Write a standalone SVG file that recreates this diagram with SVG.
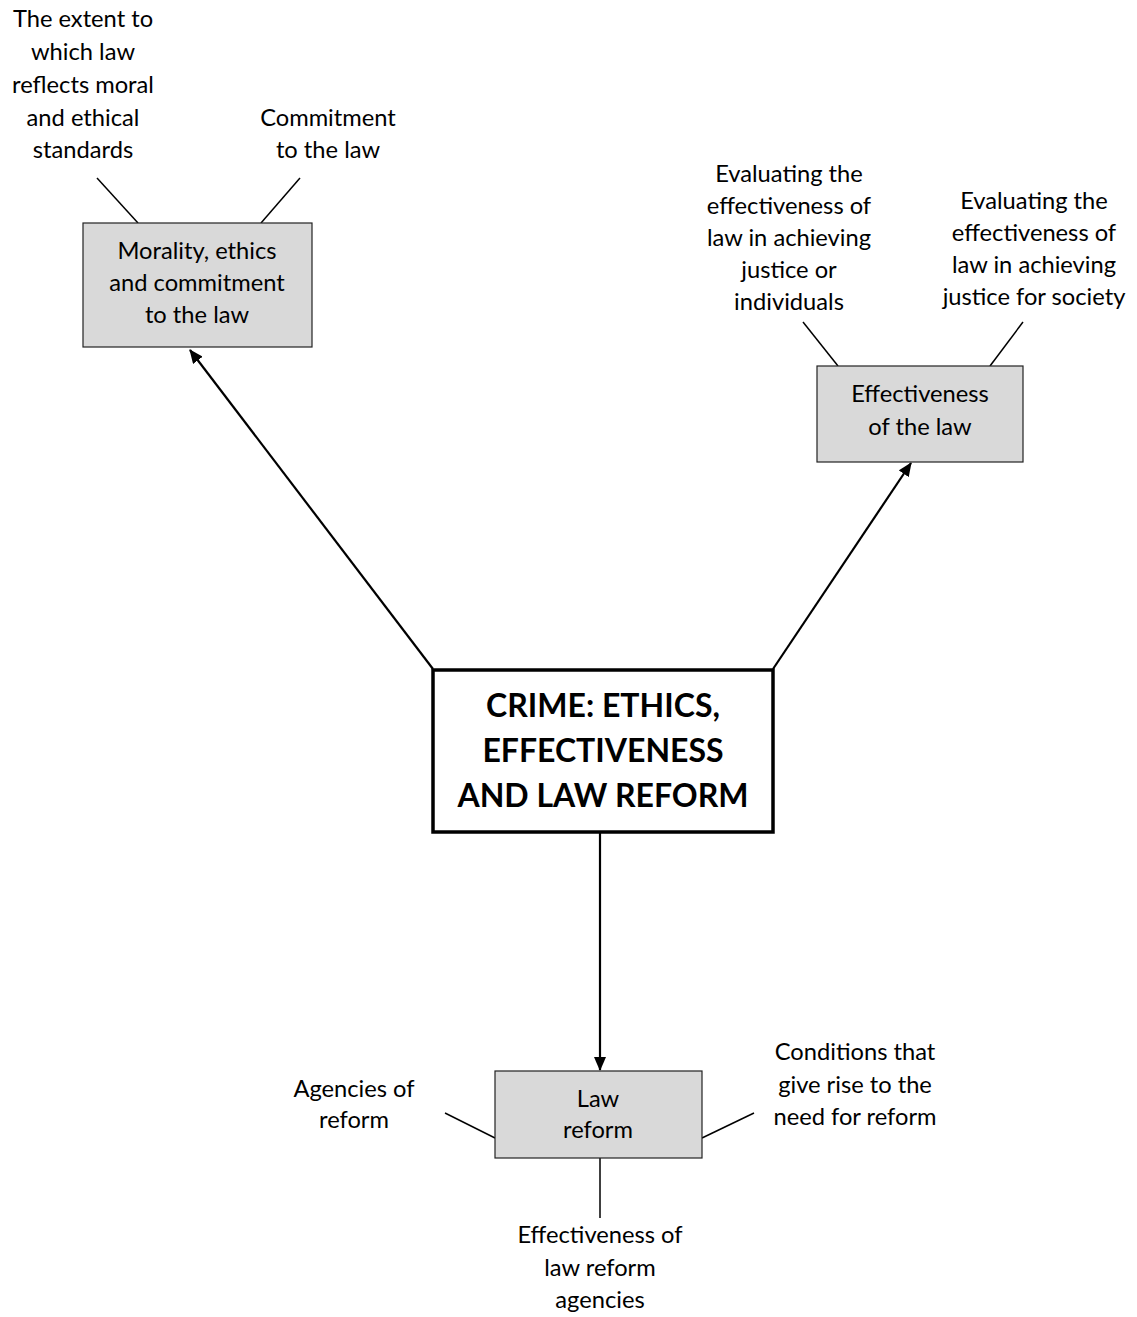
<svg xmlns="http://www.w3.org/2000/svg" width="1137" height="1317" viewBox="0 0 1137 1317">
  <style>
    .lbl { font-family: Lato, "Open Sans", sans-serif; font-size: 23.7px; fill: #000; text-anchor: middle; }
    .title { font-family: Lato, "Open Sans", sans-serif; font-size: 32px; font-weight: bold; fill: #000; text-anchor: middle; }
    .box { fill: #d9d9d9; stroke: #222; stroke-width: 1.2; }
    .main { fill: #fff; stroke: #000; stroke-width: 3.5; }
    .tick { stroke: #000; stroke-width: 1.5; fill: none; }
    .arrow { stroke: #000; stroke-width: 2.2; fill: none; marker-end: url(#head); }
  </style>
  <defs>
    <marker id="head" markerWidth="14" markerHeight="12" refX="13" refY="6" orient="auto" markerUnits="userSpaceOnUse">
      <path d="M0,0 L14,6 L0,12 Z" fill="#000"/>
    </marker>
  </defs>
  <rect width="1137" height="1317" fill="#fff"/>

  <!-- connectors -->
  <g id="connectors">
    <line class="arrow" x1="433" y1="669" x2="190" y2="350"/>
    <line class="arrow" x1="773" y1="669" x2="911" y2="463"/>
    <line class="arrow" x1="600" y1="832" x2="600" y2="1070"/>
    <line class="tick" x1="97" y1="178" x2="138" y2="223"/>
    <line class="tick" x1="300" y1="178" x2="261" y2="223"/>
    <line class="tick" x1="803" y1="322" x2="838" y2="366"/>
    <line class="tick" x1="1023" y1="322" x2="990" y2="366"/>
    <line class="tick" x1="445" y1="1113" x2="495" y2="1138"/>
    <line class="tick" x1="702" y1="1138" x2="754" y2="1113"/>
    <line class="tick" x1="600" y1="1158" x2="600" y2="1218"/>
  </g>

  <!-- central topic -->
  <g id="crime">
    <rect class="main" x="433" y="670" width="340" height="162"/>
    <text class="title" x="603" y="717">CRIME: ETHICS,</text>
    <text class="title" x="603" y="762">EFFECTIVENESS</text>
    <text class="title" x="603" y="807">AND LAW REFORM</text>
  </g>

  <!-- morality branch -->
  <g id="morality">
    <rect class="box" x="83" y="223" width="229" height="124"/>
    <text class="lbl" x="197" y="259">Morality, ethics</text>
    <text class="lbl" x="197" y="291">and commitment</text>
    <text class="lbl" x="197" y="323">to the law</text>
  </g>
  <g id="extent">
    <text class="lbl" x="83" y="27">The extent to</text>
    <text class="lbl" x="83" y="60">which law</text>
    <text class="lbl" x="83" y="93">reflects moral</text>
    <text class="lbl" x="83" y="126">and ethical</text>
    <text class="lbl" x="83" y="158">standards</text>
  </g>
  <g id="commitment">
    <text class="lbl" x="328" y="126">Commitment</text>
    <text class="lbl" x="328" y="158">to the law</text>
  </g>

  <!-- effectiveness branch -->
  <g id="effectiveness">
    <rect class="box" x="817" y="366" width="206" height="96"/>
    <text class="lbl" x="920" y="402">Effectiveness</text>
    <text class="lbl" x="920" y="435">of the law</text>
  </g>
  <g id="eval-individuals">
    <text class="lbl" x="789" y="182">Evaluating the</text>
    <text class="lbl" x="789" y="214">effectiveness of</text>
    <text class="lbl" x="789" y="246">law in achieving</text>
    <text class="lbl" x="789" y="278">justice or</text>
    <text class="lbl" x="789" y="310">individuals</text>
  </g>
  <g id="eval-society">
    <text class="lbl" x="1034" y="209">Evaluating the</text>
    <text class="lbl" x="1034" y="241">effectiveness of</text>
    <text class="lbl" x="1034" y="273">law in achieving</text>
    <text class="lbl" x="1034" y="305">justice for society</text>
  </g>

  <!-- law reform branch -->
  <g id="law-reform">
    <rect class="box" x="495" y="1071" width="207" height="87"/>
    <text class="lbl" x="598" y="1107">Law</text>
    <text class="lbl" x="598" y="1138">reform</text>
  </g>
  <g id="agencies">
    <text class="lbl" x="354" y="1097">Agencies of</text>
    <text class="lbl" x="354" y="1128">reform</text>
  </g>
  <g id="conditions">
    <text class="lbl" x="855" y="1060">Conditions that</text>
    <text class="lbl" x="855" y="1093">give rise to the</text>
    <text class="lbl" x="855" y="1125">need for reform</text>
  </g>
  <g id="reform-effectiveness">
    <text class="lbl" x="600" y="1243">Effectiveness of</text>
    <text class="lbl" x="600" y="1276">law reform</text>
    <text class="lbl" x="600" y="1308">agencies</text>
  </g>
</svg>
